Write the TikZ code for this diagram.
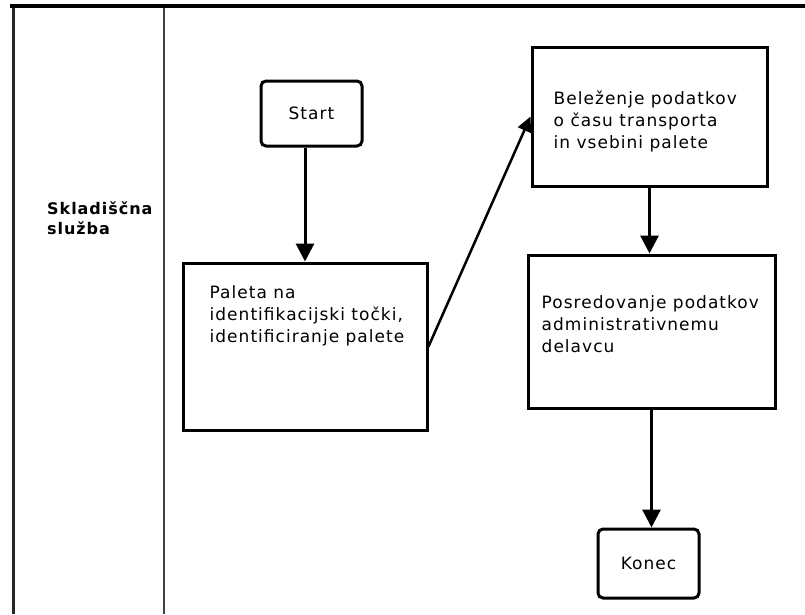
\documentclass[tikz,border=0pt]{standalone}
\usepackage{fontspec}
\setmainfont{DejaVu Sans}[LetterSpace=6]
\usetikzlibrary{arrows.meta}

\begin{document}
\begin{tikzpicture}[x=1pt, y=-1pt,
    font=\fontsize{17}{22}\selectfont,
    stepbox/.style={draw, line width=3pt, inner sep=0pt},
    termbox/.style={draw, line width=3pt, rounded corners=5pt, inner sep=0pt},
    boxtext/.style={anchor=north west, inner sep=0pt, align=left},
    flow/.style={-{Triangle[length=18pt, width=18pt]}, line width=3pt}]
    \useasboundingbox (0,0) rectangle (805,614);

    % swimlane
    \draw[line width=3.5pt] (10,6) -- (805,6);
    \draw[line width=3pt, black!85] (13,8) -- (13,614);
    \draw[line width=2.5pt, black!75] (164,8) -- (164,614);
    \node (lane) [anchor=north west, inner sep=0pt, align=left,
        font=\bfseries\fontsize{16}{20}\selectfont] at (47,201) {Skladiščna\\služba};

    % steps
    \node (start) [termbox, minimum width=101pt, minimum height=65pt] at (311.5,113.5) {Start};
    \node (paleta) [stepbox, minimum width=244pt, minimum height=167pt,
        label={[boxtext, xshift=28pt, yshift=-24pt]north west:{Paleta na\\identifikacijski točki,\\identificiranje palete}}]
        at (305,346.5) {};
    \node (belezenje) [stepbox, minimum width=235pt, minimum height=139pt,
        label={[boxtext, xshift=23pt, yshift=-45pt]north west:{Beleženje podatkov\\o času transporta\\in vsebini palete}}]
        at (649.5,116.5) {};
    \node (posred) [stepbox, minimum width=247pt, minimum height=153pt,
        label={[boxtext, xshift=15pt, yshift=-42pt]north west:{Posredovanje podatkov\\administrativnemu\\delavcu}}]
        at (651.5,331.5) {};
    \node (konec) [termbox, minimum width=101pt, minimum height=69pt] at (648.5,563.5) {Konec};

    % flow
    \draw[flow] (start.south -| paleta.north) -- (paleta.north);
    \draw[flow, line width=2.5pt, -{Triangle[length=15pt, width=14pt]}] (paleta.east) -- (belezenje.west);
    \draw[flow] (belezenje.south) -- (belezenje.south |- posred.north);
    \draw[flow] (posred.south) -- (posred.south |- konec.north);
\end{tikzpicture}
\end{document}
